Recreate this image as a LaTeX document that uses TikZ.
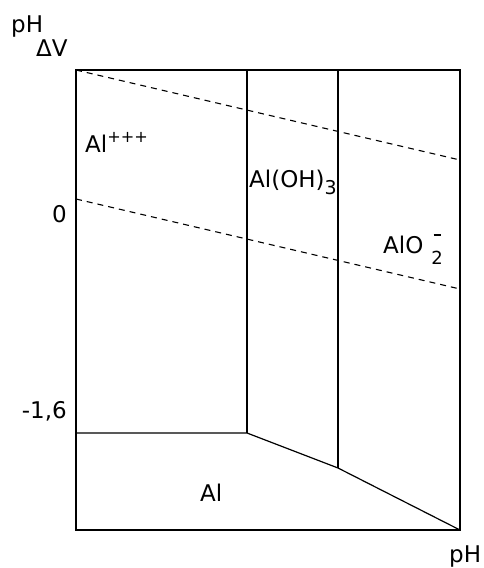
\documentclass[tikz,border=0pt]{standalone}
\usepackage{fontspec}
\setmainfont{DejaVu Sans}
\begin{document}
\begin{tikzpicture}[x=1pt,y=-1pt,
  ln/.style={line width=1.2pt},
  dsh/.style={line width=1.1pt,dash pattern=on 6pt off 5pt},
  lbl/.style={inner sep=0pt,font=\fontsize{23}{27}\selectfont},
  sml/.style={inner sep=0pt,font=\fontsize{18}{21}\selectfont}]
\useasboundingbox (0,0) rectangle (484,568);
% frame
\coordinate (tl) at (76,70);
\coordinate (tr) at (460,70);
\coordinate (br) at (460,530);
\coordinate (bl) at (76,530);
\draw[ln] (tl) -- (tr) -- (br) -- (bl) -- cycle;
% verticals
\coordinate (v1t) at (247,70);
\coordinate (v1b) at (247,433);
\coordinate (v2t) at (338,70);
\coordinate (v2b) at (338,468);
\coordinate (h1) at (76,433);
\draw[ln] (v1t) -- (v1b);
\draw[ln] (v2t) -- (v2b);
\draw[ln] (h1) -- (v1b) -- (v2b) -- (br);
% dashed
\coordinate (d1a) at (76,70);
\coordinate (d1b) at (460,160);
\coordinate (d2a) at (76,199);
\coordinate (d2b) at (460,289);
\draw[dsh] (d1a) -- (d1b);
\draw[dsh] (d2a) -- (d2b);
% labels
\node[lbl,anchor=base west] (ph1) at (11,32) {pH};
\node[lbl,anchor=base west] (dv) at (36,56) {ΔV};
\node[lbl,anchor=base west] (alp) at (85,152) {Al\textsuperscript{+++}};
\node[lbl,anchor=base west] (aloh) at (249,187) {Al(OH)\raisebox{-7pt}{\fontsize{19}{22}\selectfont 3}};
\node[lbl,anchor=base west] (alo) at (383,253) {AlO};
\node[inner sep=0pt] (mn) at (437,235) {\rule{7pt}{2.2pt}};
\node[sml,anchor=base] (two) at (437,264) {2};
\node[lbl,anchor=base east] (zero) at (67,222) {0};
\node[lbl,anchor=base east] (m16) at (67,418) {-1,6};
\node[lbl,anchor=base west] (al) at (200,501) {Al};
\node[lbl,anchor=base west] (ph2) at (449,562) {pH};
\end{tikzpicture}
\end{document}
